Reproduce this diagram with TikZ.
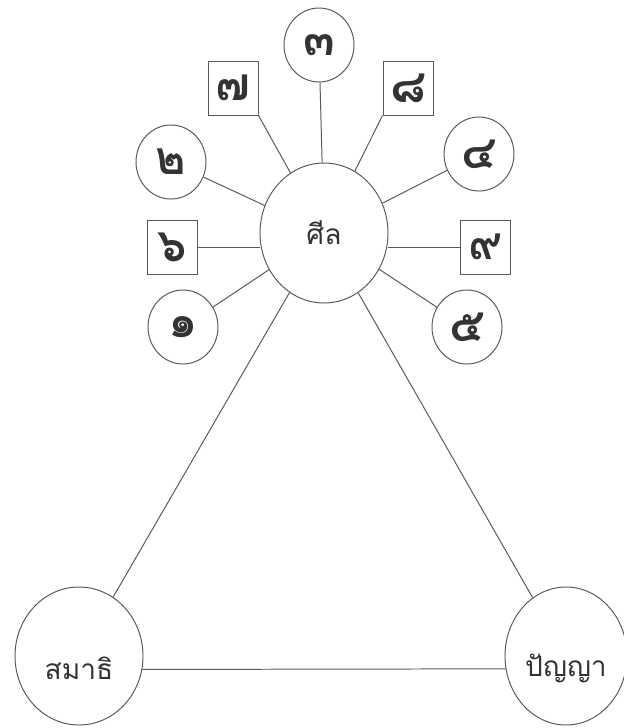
\documentclass[tikz,border=0pt]{standalone}
\usepackage{fontspec}
\newfontfamily\thaifont[Script=Thai]{Loma}
\usepackage{tikz}
\usetikzlibrary{positioning,shapes.geometric}

\tikzset{
  ring/.style={ellipse, draw=black!65, line width=0.7pt, inner sep=0pt, text=black!80},
  bigring/.style={ring, minimum width=3.2cm, minimum height=3.45cm, font=\thaifont\fontsize{20}{24}\selectfont},
  numring/.style={ring, minimum width=1.75cm, minimum height=1.85cm, font=\thaifont\bfseries\fontsize{33}{36}\selectfont},
  numbox/.style={rectangle, draw=black!65, line width=0.7pt, inner sep=0pt, text=black!80,
    minimum width=1.25cm, minimum height=1.35cm, font=\thaifont\bfseries\fontsize{33}{36}\selectfont},
  spoke/.style={draw=black!65, line width=0.7pt}
}
\newcommand{\lowword}[1]{\raisebox{-0.3cm}[\height][\depth]{#1}}

\begin{document}
\begin{tikzpicture}[on grid]
	\useasboundingbox (0,0) rectangle (15.6,-18.2);
	% centre and its spokes
	\node (sila) [bigring, minimum height=3.5cm] at (8.1,-5.825) {ศีล};
	\node (d3) [numring, above left =4.7cm   and 0.125cm of sila] {๓};
	\node (d7) [numbox,  above left =3.625cm and 2.275cm of sila] {๗};
	\node (d8) [numbox,  above right=3.625cm and 2.1cm   of sila] {๘};
	\node (d2) [numring, above left =1.775cm and 3.825cm of sila] {๒};
	\node (d4) [numring, above right=1.975cm and 3.875cm of sila] {๔};
	\node (d6) [numbox,  below left =0.35cm  and 3.8cm   of sila] {๖};
	\node (d9) [numbox,  below right=0.35cm  and 4.025cm of sila] {๙};
	\node (d1) [numring, below left =2.35cm  and 3.525cm of sila] {๑};
	\node (d5) [numring, below right=2.35cm  and 3.575cm of sila] {๕};
	% the two lower corners
	\node (samadhi) [bigring, below left =10.575cm and 6.125cm of sila] {\lowword{สมาธิ}};
	\node (panya)   [bigring, minimum width=3.05cm, below right=10.575cm and 6.05cm of sila] {\lowword{ปัญญา}};
	\draw[spoke] (d3) -- (sila);
	\draw[spoke] (d7.south east) -- (sila);
	\draw[spoke] (d8.south west) -- (sila);
	\draw[spoke] (d2) -- (sila);
	\draw[spoke] (d4) -- (sila);
	\draw[spoke] (d6.east) -- (d6.east -| sila.west);
	\draw[spoke] (d9.west) -- (d9.west -| sila.east);
	\draw[spoke] (d1) -- (sila);
	\draw[spoke] (d5) -- (sila);
	\draw[spoke] (sila) -- (samadhi);
	\draw[spoke] (sila) -- (panya);
	\draw[spoke] (samadhi.-12) -- (panya.192);
\end{tikzpicture}
\end{document}
